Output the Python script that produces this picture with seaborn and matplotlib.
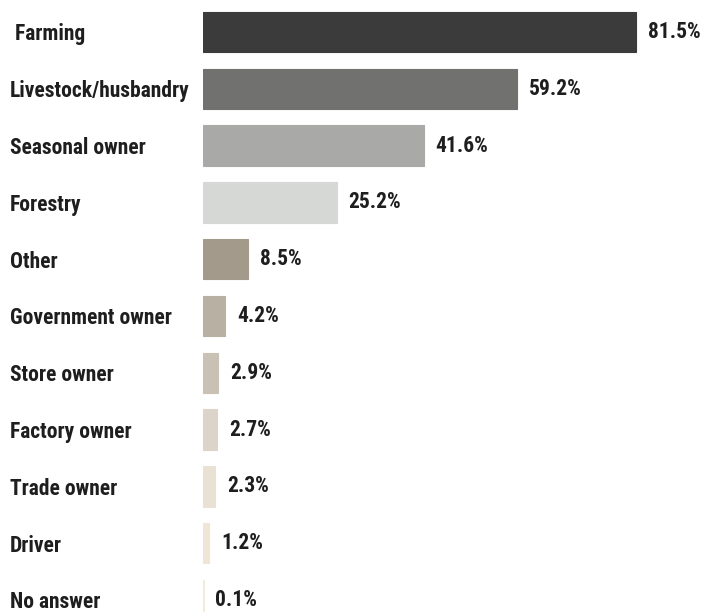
import matplotlib
matplotlib.use("Agg")
import matplotlib.pyplot as plt
import seaborn as sns
import pandas as pd
from matplotlib import font_manager

categories = [" Farming", "Livestock/husbandry", "Seasonal owner", "Forestry", "Other",
              "Government owner", "Store owner", "Factory owner", "Trade owner",
              "Driver", "No answer"]
values = [81.5, 59.2, 41.6, 25.2, 8.5, 4.2, 2.9, 2.7, 2.3, 1.2, 0.1]
colors = ["#3a3b3a", "#717270", "#a9aaa8", "#d6d8d6", "#a39a8c", "#b8b0a2",
          "#c9c1b4", "#dcd4c8", "#e9e1d4", "#efe6d6", "#f3ebde"]

sns.set_style("white")
names = {f.name for f in font_manager.fontManager.ttflist}
fam = [f for f in ["Liberation Sans Narrow", "Roboto Condensed", "Roboto"] if f in names] + ["DejaVu Sans"]
plt.rcParams["font.family"] = fam

df = pd.DataFrame({"category": categories, "value": values})

W, H = 704, 612
fig = plt.figure(figsize=(W / 100, H / 100), dpi=100)
x0, x1 = 203, 702
ax = fig.add_axes([x0 / W, 0, (x1 - x0) / W, 1])

sns.barplot(data=df, y="category", x="value", hue="category", palette=colors,
            legend=False, width=0.71, ax=ax, orient="h", saturation=1)
for p in ax.patches:
    p.set_edgecolor(p.get_facecolor())
    p.set_linewidth(0.8)

px_per_unit = 5.31
ax.set_xlim(0, (x1 - x0) / px_per_unit)
step = 56.8
top_c = 32
ax.set_ylim((H - top_c) / step, -top_c / step)

for s in ax.spines.values():
    s.set_visible(False)
ax.set_xticks([])
ax.set_xlabel("")
ax.set_ylabel("")
ax.tick_params(axis="y", length=0, pad=(x0 - 10) * 0.72, labelsize=15.5, labelcolor="#1e1e1e")
for t in ax.get_yticklabels():
    t.set_ha("left")
    t.set_fontweight("bold")

for i, v in enumerate(values):
    ax.annotate(f"{v}%", xy=(v, i), xytext=(8.5, 0), textcoords="offset points",
                ha="left", va="center", fontsize=15.5, fontweight="bold", color="#1e1e1e")

fig.savefig("out.png", dpi=100)
